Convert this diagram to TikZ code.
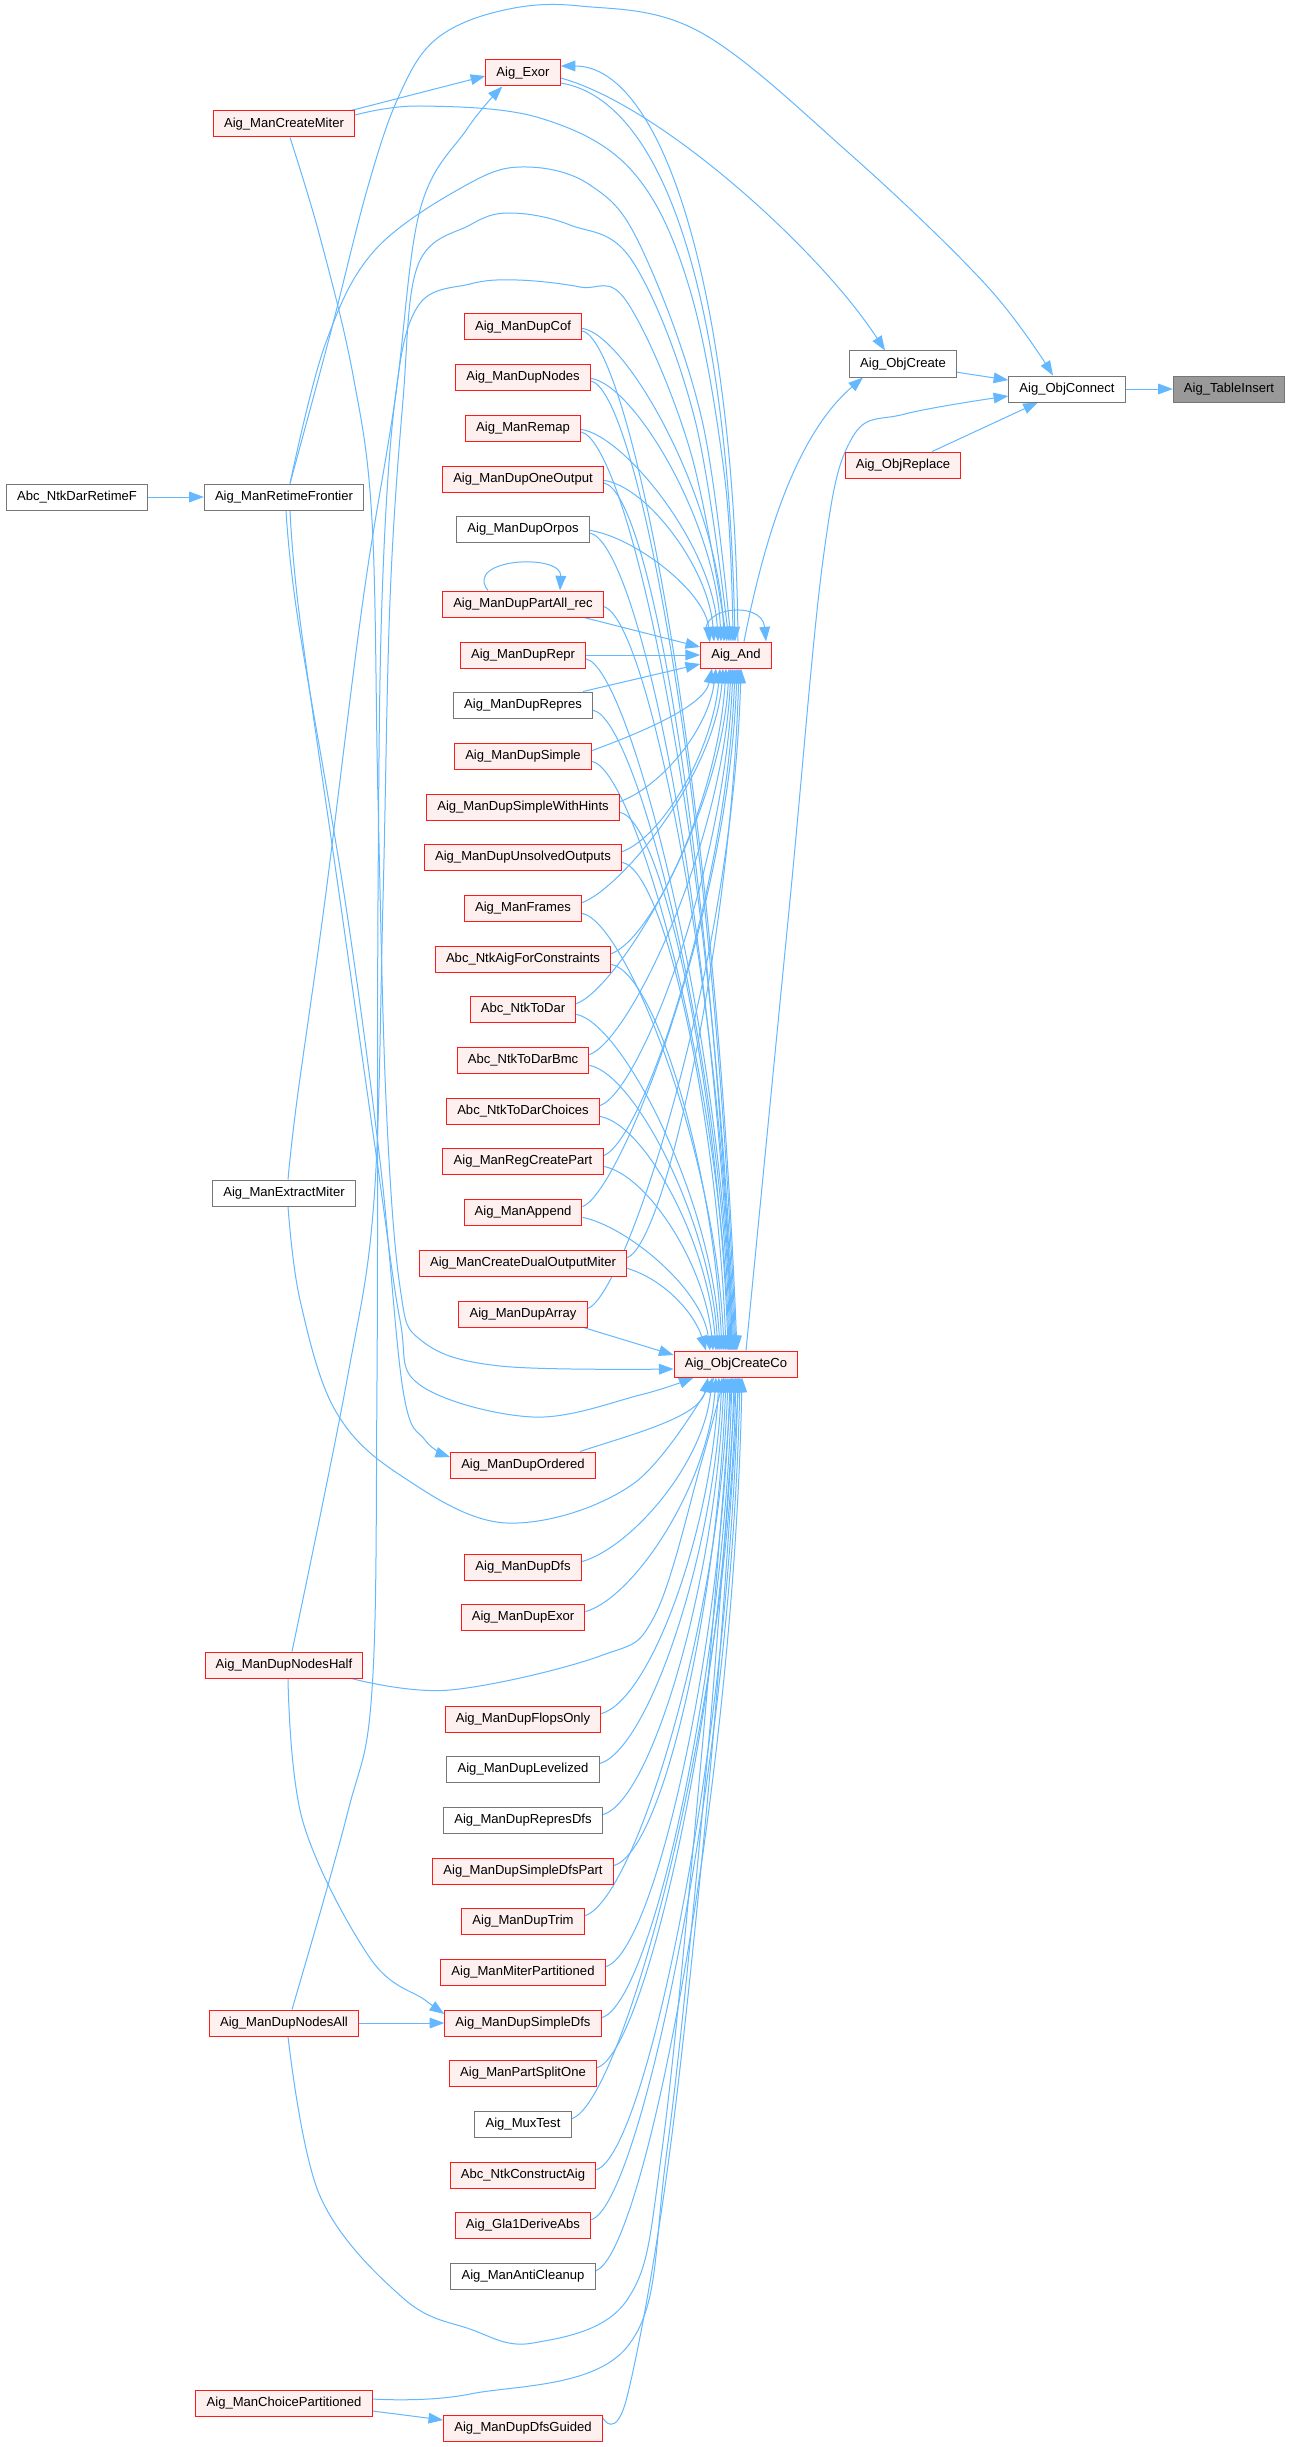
\documentclass[tikz,border=0pt]{standalone}
\usepackage{fontspec}
\setmainfont{Liberation Sans}
\usetikzlibrary{arrows.meta,calc}
\definecolor{edgeblue}{HTML}{63B8FF}
\definecolor{redfill}{HTML}{FFF0F0}
\definecolor{redline}{HTML}{FF1A1A}
\definecolor{grayline}{HTML}{767676}
\definecolor{tblfill}{HTML}{999999}
\pgfdeclarelayer{background}
\pgfsetlayers{background,main}
\tikzset{
  nbox/.style={draw, rectangle, line width=0.75pt, minimum height=19.5pt, inner xsep=8pt, inner ysep=0pt, font=\fontsize{9.8}{12}\selectfont, text=black},
  rednode/.style={nbox, draw=redline, fill=redfill},
  graynode/.style={nbox, draw=grayline, fill=white},
  tblnode/.style={nbox, draw=grayline, fill=tblfill},
  callarrow/.style={draw=edgeblue, line width=0.75pt, -{Triangle[length=11pt,width=8pt]}},
}
\begin{document}
\begin{tikzpicture}[x=0.75pt,y=-0.75pt]
\useasboundingbox (0,0) rectangle (1290,2447);
% ---------- nodes ----------
\node[graynode] (abcdar) at (77,497) {Abc\_NtkDarRetimeF};
\node[rednode] (createmiter) at (284,124) {Aig\_ManCreateMiter};
\node[graynode] (retime) at (284,497) {Aig\_ManRetimeFrontier};
\node[graynode] (extract) at (284,1193) {Aig\_ManExtractMiter};
\node[rednode] (nodeshalf) at (284,1665) {Aig\_ManDupNodesHalf};
\node[rednode] (nodesall) at (284,2023) {Aig\_ManDupNodesAll};
\node[rednode] (choice) at (284,2403) {Aig\_ManChoicePartitioned};

\node[rednode] (exor) at (523,73) {Aig\_Exor};
\node[rednode] (dupcof) at (523,327) {Aig\_ManDupCof};
\node[rednode] (dupnodes) at (523,377) {Aig\_ManDupNodes};
\node[rednode] (remap) at (523,428) {Aig\_ManRemap};
\node[rednode] (oneoutput) at (523,479) {Aig\_ManDupOneOutput};
\node[graynode] (orpos) at (523,529) {Aig\_ManDupOrpos};
\node[rednode] (partall) at (523,604) {Aig\_ManDupPartAll\_rec};
\node[rednode] (duprepr) at (523,655) {Aig\_ManDupRepr};
\node[graynode] (repres) at (523,705) {Aig\_ManDupRepres};
\node[rednode] (dupsimple) at (523,756) {Aig\_ManDupSimple};
\node[rednode] (hints) at (523,807) {Aig\_ManDupSimpleWithHints};
\node[rednode] (unsolved) at (523,857) {Aig\_ManDupUnsolvedOutputs};
\node[rednode] (frames) at (523,908) {Aig\_ManFrames};
\node[rednode] (aigcons) at (523,959) {Abc\_NtkAigForConstraints};
\node[rednode] (ntktodar) at (523,1009) {Abc\_NtkToDar};
\node[rednode] (todarbmc) at (523,1060) {Abc\_NtkToDarBmc};
\node[rednode] (todarch) at (523,1111) {Abc\_NtkToDarChoices};
\node[rednode] (regcreate) at (523,1161) {Aig\_ManRegCreatePart};
\node[rednode] (append) at (523,1212) {Aig\_ManAppend};
\node[rednode] (dualmiter) at (523,1263) {Aig\_ManCreateDualOutputMiter};
\node[rednode] (duparray) at (523,1314) {Aig\_ManDupArray};
\node[rednode] (dupordered) at (523,1465) {Aig\_ManDupOrdered};
\node[rednode] (dupdfs) at (523,1567) {Aig\_ManDupDfs};
\node[rednode] (dupexor) at (523,1617) {Aig\_ManDupExor};
\node[rednode] (flopsonly) at (523,1719) {Aig\_ManDupFlopsOnly};
\node[graynode] (levelized) at (523,1769) {Aig\_ManDupLevelized};
\node[graynode] (represdfs) at (523,1820) {Aig\_ManDupRepresDfs};
\node[rednode] (sdfspart) at (523,1871) {Aig\_ManDupSimpleDfsPart};
\node[rednode] (duptrim) at (523,1921) {Aig\_ManDupTrim};
\node[rednode] (miterpart) at (523,1972) {Aig\_ManMiterPartitioned};
\node[rednode] (simpledfs) at (523,2023) {Aig\_ManDupSimpleDfs};
\node[rednode] (partsplit) at (523,2073) {Aig\_ManPartSplitOne};
\node[graynode] (muxtest) at (523,2124) {Aig\_MuxTest};
\node[rednode] (constructaig) at (523,2175) {Abc\_NtkConstructAig};
\node[rednode] (gla1) at (523,2225) {Aig\_Gla1DeriveAbs};
\node[graynode] (anticleanup) at (523,2276) {Aig\_ManAntiCleanup};
\node[rednode] (dfsguided) at (523,2428) {Aig\_ManDupDfsGuided};

\node[rednode] (and) at (736,655) {Aig\_And};
\node[rednode] (co) at (736,1364) {Aig\_ObjCreateCo};
\node[graynode] (create) at (903,364) {Aig\_ObjCreate};
\node[rednode] (replace) at (903,465) {Aig\_ObjReplace};
\node[graynode] (conn) at (1067,389) {Aig\_ObjConnect};
\node[tblnode] (tbl) at (1229,389) {Aig\_TableInsert};

% ---------- edges ----------
\begin{pgfonlayer}{background}
\fill[white] (0,0) rectangle (1290,2447);
% right part
\draw[callarrow] (conn.east) -- (tbl.west);
\draw[callarrow] (create) -- (conn);
\draw[callarrow] (replace) -- (conn);
\draw[callarrow] plot[smooth, tension=0.6] coordinates {($(co.north)+(10,0)$) (790,900) (823,560) (852,438) (905,414) ($(conn.west)+(0,7)$)};
\draw[callarrow] (abcdar) -- (retime);
% Aig_Exor / Aig_And cycle
\draw[callarrow] ($(and.north)+(2,0)$) .. controls (735,300) and (665,66) .. ($(exor.east)+(0,-7)$);
\draw[callarrow] ($(exor.east)+(0,10)$) .. controls (665,100) and (728,300) .. ($(and.north)+(-1,0)$);
\draw[callarrow] ($(exor.east)+(0,5)$) .. controls (660,105) and (820,250) .. ($(create.north)+(-18,0)$);
\draw[callarrow] ($(and.north)+(8,0)$) .. controls (760,560) and (790,440) .. ($(create.south west)+(14,0)$);
\draw[callarrow] ($(and.north)+(-26,0)$) .. controls (688,608) and (762,598) .. ($(and.north)+(30,0)$);
\draw[callarrow] ($(partall.north)+(-35,0)$) .. controls (463,558) and (562,553) .. ($(partall.north)+(37,0)$);
% left column
\draw[callarrow] plot[smooth, tension=0.6] coordinates {($(retime.north)+(6,0)$) (330,335) (367,190) (398,98) (435,40) (500,11) (580,6) (700,32) (850,154) (987,286) ($(conn.north)+(-14,0)$)};
\draw[callarrow] plot[smooth, tension=0.6] coordinates {($(retime.north)+(6,0)$) (325,345) (375,250) (470,183) (527,167) (590,185) (640,245) (702,420) ($(and.north)+(-5,0)$)};
\draw[callarrow] ($(createmiter.north east)+(-4,0)$) -- ($(exor.west)+(0,3)$);
\draw[callarrow] plot[smooth, tension=0.6] coordinates {($(createmiter.east)+(0,-9)$) (420,106) (540,118) (633,172) (690,290) (725,480) ($(and.north)+(-3,0)$)};
\draw[callarrow] plot[smooth, tension=0.6] coordinates {($(createmiter.south)+(6,0)$) (320,237) (353,375) (372,520) (378,800) (386,1100) (400,1287) (422,1341) (500,1366) ($(co.west)+(0,5)$)};
\draw[callarrow] plot[smooth, tension=0.6] coordinates {($(retime.south)+(6,0)$) (300,620) (340,900) (377,1161) (400,1320) (420,1385) (533,1417) (640,1395) ($(co.south west)+(20,0)$)};
\draw[callarrow] plot[smooth, tension=0.6] coordinates {($(retime.south)+(2,0)$) (298,620) (345,900) (380,1161) (403,1390) (425,1440) ($(dupordered.west)+(0,-8)$)};
\draw[callarrow] plot[smooth, tension=0.6] coordinates {($(extract.north)+(4,0)$) (297,1100) (325,900) (363,600) (395,400) (420,210) (467,129) ($(exor.south west)+(17,0)$)};
\draw[callarrow] plot[smooth, tension=0.6] coordinates {($(extract.south)+(4,0)$) (300,1300) (335,1410) (400,1475) (507,1523) (633,1484) ($(co.south)+(-22,0)$)};
\draw[callarrow] plot[smooth, tension=0.6] coordinates {($(nodeshalf.north)+(8,0)$) (347,1380) (374,1200) (383,900) (390,600) (403,400) (418,265) (470,225) (510,213) (570,225) (633,262) (695,420) ($(and.north)+(-7,0)$)};
\draw[callarrow] plot[smooth, tension=0.6] coordinates {($(nodesall.north)+(8,0)$) (347,1815) (372,1690) (377,1380) (378,900) (382,600) (395,400) (418,306) (470,284) (517,280) (580,287) (627,302) (690,450) ($(and.north)+(-9,0)$)};
\draw[callarrow] plot[smooth, tension=0.6] coordinates {($(nodeshalf.south east)+(-12,0)$) (450,1690) (600,1656) (655,1615) (702,1460) ($(co.south)+(-12,0)$)};
\draw[callarrow] plot[smooth, tension=0.6] coordinates {($(nodeshalf.south)+(4,0)$) (303,1822) (370,1958) (425,2000) ($(simpledfs.west)+(0,-9)$)};
\draw[callarrow] (nodesall.east) -- (simpledfs.west);
\draw[callarrow] plot[smooth, tension=0.6] coordinates {($(nodesall.south)+(4,0)$) (320,2196) (403,2298) (470,2329) (533,2343) (627,2300) (662,2150) (702,1750) ($(co.south)+(-4,0)$)};
\draw[callarrow] plot[smooth, tension=0.6] coordinates {($(choice.east)+(0,-4)$) (470,2394) (627,2347) (667,2150) (708,1750) (co.south)};
\draw[callarrow] ($(choice.east)+(0,8)$) -- ($(dfsguided.west)+(0,-8)$);
\draw[callarrow] plot[smooth, tension=0.6] coordinates {($(dfsguided.east)+(0,-10)$) (627,2397) (670,2150) (712,1750) ($(co.south)+(3,0)$)};
% middle column above Aig_And
\draw[callarrow] ([yshift=-1pt]dupcof.east) .. controls (627,335) and (719,500) .. ($(and.north)+(-12,0)$);
\draw[callarrow] ([yshift=-1pt]dupnodes.east) .. controls (635,385) and (716,523) .. ($(and.north)+(-15,0)$);
\draw[callarrow] ([yshift=-1pt]remap.east) .. controls (625,436) and (713,546) .. ($(and.north)+(-18,0)$);
\draw[callarrow] ([yshift=-1pt]oneoutput.east) .. controls (648,487) and (709,569) .. ($(and.north)+(-22,0)$);
\draw[callarrow] ([yshift=-1pt]orpos.east) .. controls (634,537) and (705,591) .. ($(and.north)+(-26,0)$);
\draw[callarrow] ([yshift=-3pt]dupcof.east) .. controls (627,339) and (712,737) .. ($(co.north)+(1,0)$);
\draw[callarrow] ([yshift=-3pt]dupnodes.east) .. controls (635,389) and (711,767) .. ($(co.north)+(0,0)$);
\draw[callarrow] ([yshift=-3pt]remap.east) .. controls (625,440) and (710,797) .. ($(co.north)+(-1,0)$);
\draw[callarrow] ([yshift=-3pt]oneoutput.east) .. controls (648,491) and (709,828) .. ($(co.north)+(-2,0)$);
\draw[callarrow] ([yshift=-3pt]orpos.east) .. controls (634,541) and (708,858) .. ($(co.north)+(-3,0)$);
% near Aig_And
\draw[callarrow] ($(partall.south east)+(-20,0)$) -- ($(and.west)+(0,-8)$);
\draw[callarrow] (duprepr.east) -- (and.west);
\draw[callarrow] ($(repres.north east)+(-10,0)$) -- ($(and.west)+(0,9)$);
\draw[callarrow] ([yshift=-2pt]partall.east) .. controls (650,620) and (724,1015) .. ($(co.north)+(-4,0)$);
\draw[callarrow] ([yshift=-3pt]duprepr.east) .. controls (630,667) and (723,1038) .. ($(co.north)+(-5,0)$);
\draw[callarrow] ([yshift=-4pt]repres.east) .. controls (637,717) and (722,1060) .. ($(co.north)+(-6,0)$);
% between Aig_And and Aig_ObjCreateCo: up to Aig_And
\draw[callarrow] ([yshift=4pt]dupsimple.east) .. controls (631,736) and (704,708) .. ($(and.south)+(-24,0)$);
\draw[callarrow] ([yshift=4pt]hints.east) .. controls (660,787) and (708,731) .. ($(and.south)+(-20,0)$);
\draw[callarrow] ([yshift=4pt]unsolved.east) .. controls (662,837) and (712,753) .. ($(and.south)+(-16,0)$);
\draw[callarrow] ([yshift=4pt]frames.east) .. controls (621,888) and (715,776) .. ($(and.south)+(-13,0)$);
\draw[callarrow] ([yshift=4pt]aigcons.east) .. controls (652,939) and (718,799) .. ($(and.south)+(-10,0)$);
\draw[callarrow] ([yshift=4pt]ntktodar.east) .. controls (617,989) and (721,821) .. ($(and.south)+(-7,0)$);
\draw[callarrow] ([yshift=4pt]todarbmc.east) .. controls (630,1040) and (723,844) .. ($(and.south)+(-5,0)$);
\draw[callarrow] ([yshift=4pt]todarch.east) .. controls (641,1091) and (725,867) .. ($(and.south)+(-3,0)$);
\draw[callarrow] ([yshift=4pt]regcreate.east) .. controls (643,1141) and (727,890) .. ($(and.south)+(-1,0)$);
\draw[callarrow] ([yshift=4pt]append.east) .. controls (621,1192) and (729,913) .. ($(and.south)+(1,0)$);
\draw[callarrow] ([yshift=4pt]dualmiter.east) .. controls (666,1243) and (731,936) .. ($(and.south)+(3,0)$);
\draw[callarrow] ([yshift=4pt]duparray.east) .. controls (627,1294) and (733,959) .. ($(and.south)+(5,0)$);
% between: down to Aig_ObjCreateCo
\draw[callarrow] ([yshift=-4pt]dupsimple.east) .. controls (636,770) and (721,1083) .. ($(co.north)+(-7,0)$);
\draw[callarrow] ([yshift=-4pt]hints.east) .. controls (665,821) and (720,1106) .. ($(co.north)+(-8,0)$);
\draw[callarrow] ([yshift=-4pt]unsolved.east) .. controls (667,871) and (718,1129) .. ($(co.north)+(-10,0)$);
\draw[callarrow] ([yshift=-4pt]frames.east) .. controls (626,922) and (716,1152) .. ($(co.north)+(-12,0)$);
\draw[callarrow] ([yshift=-4pt]aigcons.east) .. controls (657,973) and (714,1175) .. ($(co.north)+(-14,0)$);
\draw[callarrow] ([yshift=-4pt]ntktodar.east) .. controls (622,1023) and (712,1197) .. ($(co.north)+(-16,0)$);
\draw[callarrow] ([yshift=-4pt]todarbmc.east) .. controls (635,1074) and (710,1220) .. ($(co.north)+(-18,0)$);
\draw[callarrow] ([yshift=-4pt]todarch.east) .. controls (646,1125) and (708,1243) .. ($(co.north)+(-20,0)$);
\draw[callarrow] ([yshift=-4pt]regcreate.east) .. controls (648,1175) and (705,1265) .. ($(co.north)+(-23,0)$);
\draw[callarrow] ([yshift=-4pt]append.east) .. controls (626,1226) and (702,1288) .. ($(co.north)+(-26,0)$);
\draw[callarrow] ([yshift=-4pt]dualmiter.east) .. controls (666,1280) and (695,1315) .. ($(co.north)+(-30,0)$);
\draw[callarrow] ($(duparray.south east)+(-4,0)$) -- ($(co.west)+(0,-9)$);
% below Aig_ObjCreateCo
\draw[callarrow] ($(dupordered.north east)+(-16,0)$) .. controls (633,1434) and (700,1417) .. ($(co.south)+(-28,0)$);
\draw[callarrow] ([yshift=4pt]dupdfs.east) .. controls (632,1547) and (704,1463) .. ($(co.south)+(-24,0)$);
\draw[callarrow] ([yshift=4pt]dupexor.east) .. controls (635,1597) and (708,1485) .. ($(co.south)+(-20,0)$);
\draw[callarrow] ([yshift=4pt]flopsonly.east) .. controls (651,1699) and (711,1531) .. ($(co.south)+(-17,0)$);
\draw[callarrow] ([yshift=4pt]levelized.east) .. controls (649,1749) and (714,1553) .. ($(co.south)+(-14,0)$);
\draw[callarrow] ([yshift=4pt]represdfs.east) .. controls (653,1800) and (716,1576) .. ($(co.south)+(-12,0)$);
\draw[callarrow] ([yshift=4pt]sdfspart.east) .. controls (664,1851) and (718,1599) .. ($(co.south)+(-10,0)$);
\draw[callarrow] ([yshift=4pt]duptrim.east) .. controls (634,1901) and (720,1622) .. ($(co.south)+(-8,0)$);
\draw[callarrow] ([yshift=4pt]miterpart.east) .. controls (655,1952) and (722,1645) .. ($(co.south)+(-6,0)$);
\draw[callarrow] ([yshift=4pt]simpledfs.east) .. controls (652,2003) and (724,1668) .. ($(co.south)+(-4,0)$);
\draw[callarrow] ([yshift=4pt]partsplit.east) .. controls (646,2053) and (726,1690) .. ($(co.south)+(-2,0)$);
\draw[callarrow] ([yshift=4pt]muxtest.east) .. controls (622,2104) and (728,1713) .. ($(co.south)+(0,0)$);
\draw[callarrow] ([yshift=4pt]constructaig.east) .. controls (647,2155) and (730,1736) .. ($(co.south)+(2,0)$);
\draw[callarrow] ([yshift=4pt]gla1.east) .. controls (641,2205) and (732,1759) .. ($(co.south)+(4,0)$);
\draw[callarrow] ([yshift=4pt]anticleanup.east) .. controls (645,2256) and (734,1782) .. ($(co.south)+(6,0)$);
\end{pgfonlayer}
\end{tikzpicture}
\end{document}
